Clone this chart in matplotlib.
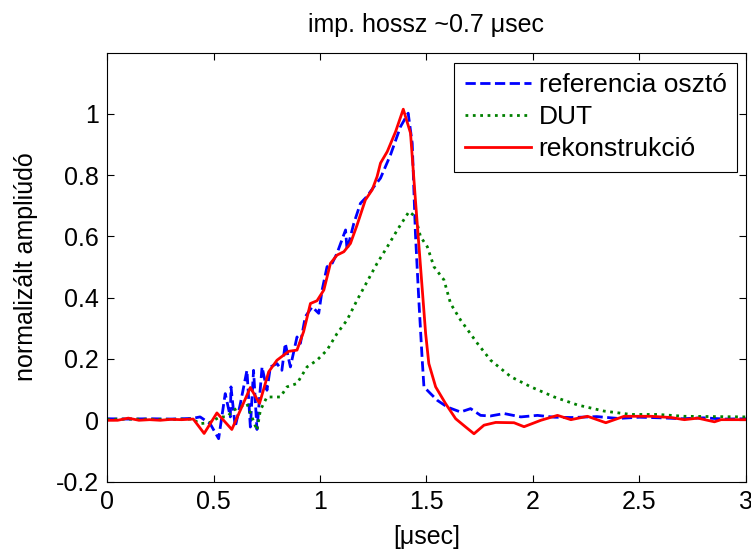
import numpy as np
import matplotlib
matplotlib.use("Agg")
import matplotlib.pyplot as plt

plt.rcParams['font.family'] = ['Liberation Sans', 'DejaVu Sans']

# referencia oszto (blue, dashed)
ref_t = [0, 0.1, 0.2, 0.3, 0.4, 0.437, 0.484, 0.524, 0.555, 0.579, 0.582, 0.602,
         0.626, 0.657, 0.673, 0.688, 0.704, 0.728, 0.751, 0.767, 0.798, 0.821,
         0.837, 0.861, 0.892, 0.908, 0.931, 0.963, 0.994, 1.01, 1.033, 1.057,
         1.08, 1.12, 1.127, 1.159, 1.19, 1.22, 1.253, 1.284, 1.331, 1.378,
         1.414, 1.433, 1.448, 1.464, 1.48, 1.488, 1.519, 1.551, 1.598, 1.66,
         1.707, 1.754, 1.8, 1.864, 1.943, 2.021, 2.1, 2.18, 2.3, 2.4, 2.5,
         2.6, 2.7, 2.8, 2.9, 3.0]
ref_y = [0.005, 0.004, 0.005, 0.004, 0.006, 0.011, -0.011, -0.06, 0.087, 0.011,
         0.109, -0.022, 0.054, 0.163, -0.022, 0.163, -0.03, 0.174, 0.098, 0.174,
         0.185, 0.163, 0.251, 0.174, 0.272, 0.251, 0.338, 0.37, 0.349, 0.425,
         0.501, 0.512, 0.545, 0.621, 0.556, 0.643, 0.708, 0.73, 0.762, 0.79,
         0.866, 0.958, 1.002, 0.904, 0.61, 0.392, 0.196, 0.109, 0.087, 0.065,
         0.043, 0.027, 0.038, 0.016, 0.014, 0.022, 0.011, 0.016, 0.01, 0.009,
         0.012, 0.006, 0.01, 0.008, 0.005, 0.008, 0.004, 0.005]

# DUT (green, dotted)
dut_t = [0, 0.1, 0.2, 0.3, 0.4, 0.437, 0.48, 0.53, 0.563, 0.594, 0.657, 0.704,
         0.72, 0.751, 0.814, 0.845, 0.892, 0.939, 0.986, 1.033, 1.08, 1.127,
         1.174, 1.221, 1.268, 1.316, 1.363, 1.418, 1.448, 1.472, 1.504, 1.535,
         1.582, 1.613, 1.66, 1.739, 1.801, 1.896, 1.99, 2.1, 2.209, 2.334,
         2.46, 2.586, 2.711, 2.85, 3.0]
dut_y = [0.003, 0.004, 0.003, 0.003, 0.004, -0.011, -0.008, 0.011, 0.011, 0.033,
         0.054, -0.033, 0.033, 0.076, 0.076, 0.109, 0.12, 0.174, 0.196, 0.229,
         0.283, 0.327, 0.392, 0.452, 0.512, 0.566, 0.621, 0.681, 0.664, 0.599,
         0.566, 0.501, 0.458, 0.381, 0.327, 0.251, 0.196, 0.142, 0.109, 0.076,
         0.05, 0.03, 0.019, 0.019, 0.013, 0.012, 0.011]

# rekonstrukcio (red, solid)
rek_t = [0, 0.05, 0.1, 0.15, 0.2, 0.25, 0.3, 0.35, 0.405, 0.456, 0.516, 0.586,
         0.673, 0.716, 0.759, 0.798, 0.853, 0.892, 0.923, 0.955, 0.986, 1.018,
         1.049, 1.08, 1.112, 1.143, 1.174, 1.213, 1.245, 1.268, 1.284, 1.316,
         1.355, 1.391, 1.425, 1.448, 1.472, 1.496, 1.511, 1.543, 1.59, 1.637,
         1.684, 1.723, 1.77, 1.825, 1.911, 1.958, 2.037, 2.115, 2.178, 2.256,
         2.342, 2.428, 2.554, 2.648, 2.711, 2.774, 2.852, 2.883, 3.0]
rek_y = [0.0, 0.0, 0.007, 0.0, 0.002, 0.0, 0.003, 0.002, 0.004, -0.043, 0.024,
         -0.03, 0.107, 0.055, 0.158, 0.196, 0.225, 0.229, 0.289, 0.381, 0.39,
         0.425, 0.512, 0.539, 0.55, 0.577, 0.637, 0.719, 0.752, 0.795, 0.839,
         0.877, 0.942, 1.015, 0.937, 0.719, 0.501, 0.283, 0.185, 0.109, 0.054,
         0.005, -0.022, -0.044, -0.016, -0.007, -0.008, -0.021, 0.0, 0.016,
         0.002, 0.013, -0.008, 0.013, 0.013, 0.009, 0.002, 0.007, -0.005,
         0.002, 0.002]

fig = plt.figure(figsize=(7.51, 5.51), dpi=100)
ax = fig.add_axes([0.1425, 0.126, 0.8508, 0.7787])

ax.plot(ref_t, ref_y, color='#0000ff', ls='--', lw=2.0, label='referencia osztó')
ax.plot(dut_t, dut_y, color='#008000', ls=':', lw=2.0, label='DUT')
ax.plot(rek_t, rek_y, color='#ff0000', ls='-', lw=2.0, label='rekonstrukció')

ax.set_xlim(0, 3)
ax.set_ylim(-0.2, 1.2)
ax.set_xticks(np.arange(0, 3.01, 0.5))
ax.set_xticklabels(['0', '0.5', '1', '1.5', '2', '2.5', '3'])
ax.set_yticks(np.arange(-0.2, 1.01, 0.2))
ax.set_yticklabels(['-0.2', '0', '0.2', '0.4', '0.6', '0.8', '1'])
ax.tick_params(direction='in', top=True, right=True, length=5, width=0.8,
               labelsize=18, pad=6)
for sp in ax.spines.values():
    sp.set_linewidth(0.8)

ax.set_title('imp. hossz ~0.7 \u03bcsec', fontsize=18, pad=15)
ax.set_xlabel('[\u03bcsec]', fontsize=18, labelpad=8)
ax.set_ylabel('normalizált ampliúdó', fontsize=18, labelpad=13)

leg = ax.legend(loc='upper right', bbox_to_anchor=(0.986, 0.976), borderaxespad=0,
                fontsize=19, fancybox=False, framealpha=1, edgecolor='black',
                handlelength=2.5, handletextpad=0.3, labelspacing=0.3,
                borderpad=0.4)
leg.get_frame().set_linewidth(0.8)

fig.savefig('out.png', dpi=100)
